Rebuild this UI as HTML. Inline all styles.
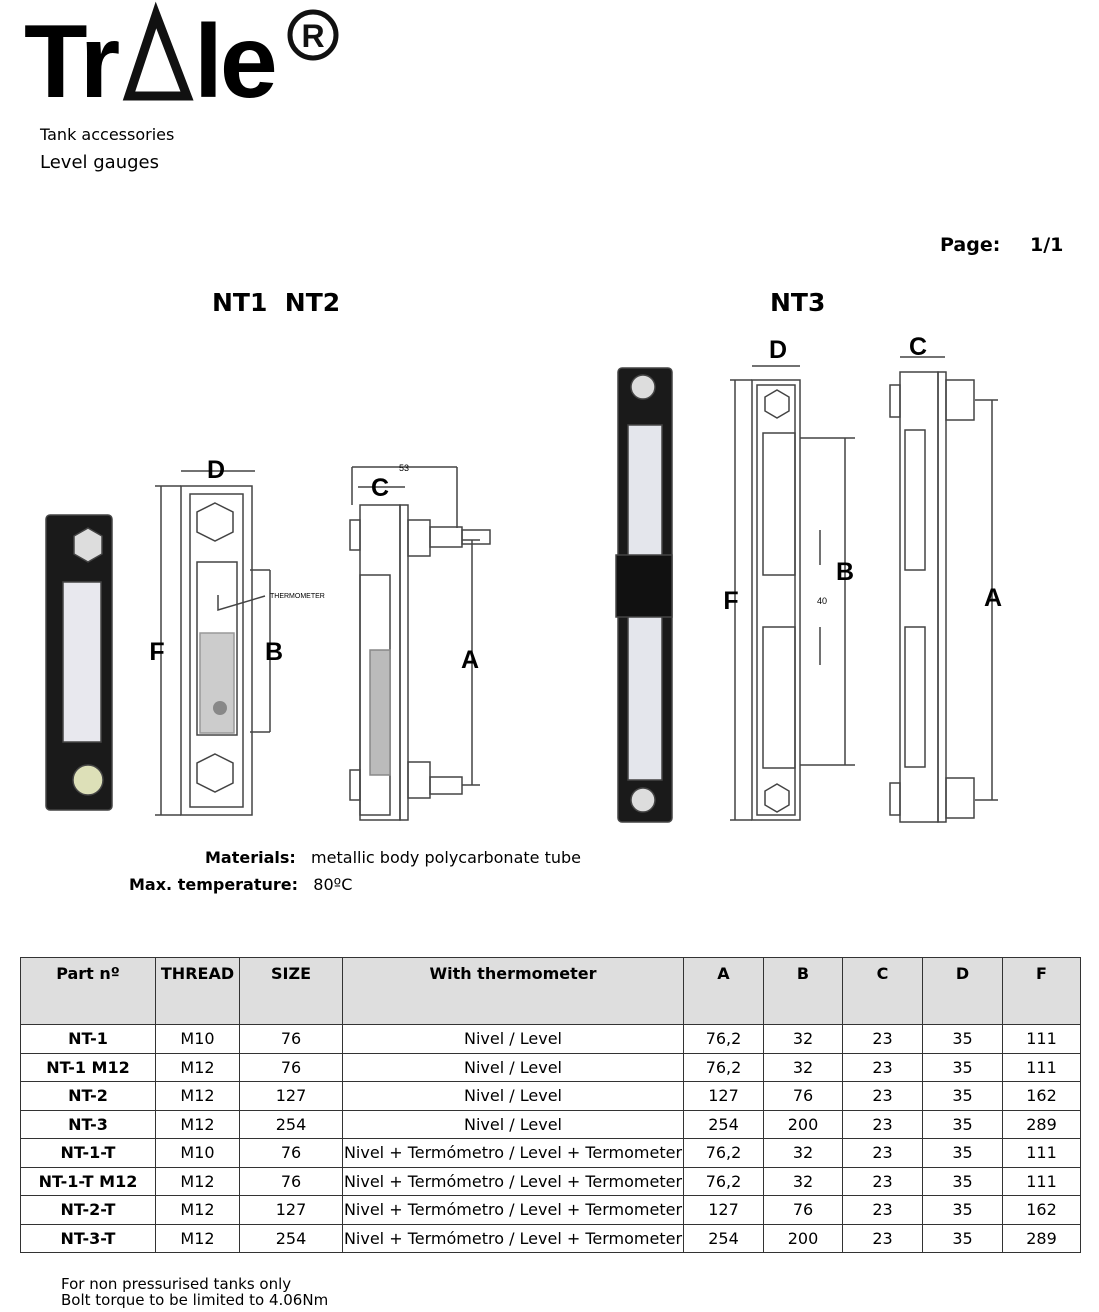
<!DOCTYPE html>
<html><head><meta charset="utf-8"><style>
body{margin:0;background:#fff;width:1099px;height:1312px;position:relative;font-family:"DejaVu Sans","Liberation Sans",sans-serif;color:#000;overflow:hidden}
.a{position:absolute;white-space:nowrap}
table{position:absolute;left:20px;top:957px;border-collapse:collapse;font-size:16px}
td{border:1.5px solid #333;text-align:center;padding:0;height:27.5px}
tr.h td{background:#dedede;font-weight:bold;vertical-align:top;height:60px;padding-top:6px}
td.b{font-weight:bold}
</style></head><body>
<div class="a" style="left:24px;top:2px;font-family:'Liberation Sans',sans-serif;font-weight:bold;font-size:104px;letter-spacing:-2px;line-height:120px">Tr</div>
<svg class="a" style="left:0;top:0" width="360" height="110"><polygon points="156,15 129,96 187,96" fill="none" stroke="#111" stroke-width="9"/><circle cx="313" cy="35" r="23" fill="none" stroke="#111" stroke-width="5"/><text x="313" y="47" font-family="Liberation Sans" font-weight="bold" font-size="32" text-anchor="middle" fill="#111">R</text></svg>
<div class="a" style="left:194px;top:2px;font-family:'Liberation Sans',sans-serif;font-weight:bold;font-size:104px;letter-spacing:-3px;line-height:120px">le</div>
<div class="a" style="left:40px;top:125px;font-size:16px">Tank accessories</div>
<div class="a" style="left:40px;top:152px;font-size:18px">Level gauges</div>
<div class="a" style="left:940px;top:234px;font-size:19px;font-weight:bold">Page:</div>
<div class="a" style="left:1030px;top:234px;font-size:19px;font-weight:bold">1/1</div>
<div class="a" style="left:212px;top:288px;font-size:25px;font-weight:bold">NT1&nbsp; NT2</div>
<div class="a" style="left:770px;top:288px;font-size:25px;font-weight:bold">NT3</div>
<svg class="a" style="left:0;top:0" width="1099" height="900" font-family="Liberation Sans" font-weight="bold">
<g stroke="#444" fill="none" stroke-width="1.5">
<rect x="46" y="515" width="66" height="295" rx="4" fill="#1a1a1a"/>
<polygon points="88,528 102,536 102,554 88,562 74,554 74,536" fill="#ddd"/>
<rect x="63" y="582" width="38" height="160" fill="#e8e8ee"/>
<circle cx="88" cy="780" r="15" fill="#dde0b8"/>
<rect x="181" y="486" width="71" height="329"/><rect x="190" y="494" width="53" height="313"/>
<polygon points="215,503 233,512 233,532 215,541 197,532 197,512"/>
<polygon points="215,754 233,763 233,783 215,792 197,783 197,763"/>
<rect x="197" y="562" width="40" height="173"/><rect x="200" y="633" width="34" height="100" fill="#ccc" stroke="#999"/>
<circle cx="220" cy="708" r="7" fill="#888" stroke="none"/>
<path d="M181 471H255M161 486V815M155 486H181M155 815H181M250 570H270M270 570V732M250 732H270M218 595V610L265 596"/>
<path d="M360 505H400V820H360Z"/><rect x="400" y="505" width="8" height="315"/>
<rect x="350" y="520" width="10" height="30"/><rect x="350" y="770" width="10" height="30"/>
<rect x="408" y="520" width="22" height="36"/><rect x="408" y="762" width="22" height="36"/>
<rect x="430" y="527" width="32" height="20"/><rect x="462" y="530" width="28" height="14"/><rect x="430" y="777" width="32" height="17"/>
<rect x="360" y="575" width="30" height="240"/><rect x="370" y="650" width="20" height="125" fill="#bbb" stroke="#888"/>
<path d="M352 467H457M352 467V505M457 467V528M358 487H405M472 540V785M462 540H480M462 785H480"/>
<rect x="618" y="368" width="54" height="454" rx="4" fill="#1a1a1a"/>
<rect x="628" y="425" width="34" height="355" fill="#e4e6ec"/>
<rect x="616" y="555" width="56" height="62" fill="#111"/>
<circle cx="643" cy="387" r="12" fill="#ddd"/><circle cx="643" cy="800" r="12" fill="#ddd"/>
<rect x="752" y="380" width="48" height="440"/><rect x="757" y="385" width="38" height="430"/>
<polygon points="777,390 789,397 789,411 777,418 765,411 765,397"/>
<polygon points="777,784 789,791 789,805 777,812 765,805 765,791"/>
<rect x="763" y="433" width="32" height="142"/><rect x="763" y="627" width="32" height="141"/>
<path d="M752 366H800M735 380V820M730 380H752M730 820H752M800 438H855M800 765H855M845 438V765M820 530V565M820 627V665"/>
<rect x="900" y="372" width="38" height="450"/><rect x="938" y="372" width="8" height="450"/>
<rect x="905" y="430" width="20" height="140"/><rect x="905" y="627" width="20" height="140"/>
<rect x="890" y="385" width="10" height="32"/><rect x="890" y="783" width="10" height="32"/>
<rect x="946" y="380" width="28" height="40"/><rect x="946" y="778" width="28" height="40"/>
<path d="M900 357H945M992 400V800M975 400H998M975 800H998"/>
</g>
<g font-size="25" text-anchor="middle">
<text x="216" y="478">D</text><text x="157" y="660">F</text><text x="274" y="660">B</text>
<text x="380" y="496">C</text><text x="470" y="668">A</text>
<text x="778" y="358">D</text><text x="918" y="355">C</text><text x="731" y="609">F</text><text x="845" y="580">B</text><text x="993" y="606">A</text>
</g>
<text x="404" y="471" font-size="9" font-weight="normal" text-anchor="middle">53</text>
<text x="270" y="598" font-size="7" font-weight="normal">THERMOMETER</text>
<text x="822" y="604" font-size="9" font-weight="normal" text-anchor="middle">40</text>
</svg>
<div class="a" style="left:205px;top:848px;font-size:16px"><b>Materials:</b>&nbsp;&nbsp;&nbsp;metallic body polycarbonate tube</div>
<div class="a" style="left:129px;top:875px;font-size:16px"><b>Max. temperature:</b>&nbsp;&nbsp;&nbsp;80ºC</div>
<table>
<colgroup><col style="width:135px"><col style="width:84px"><col style="width:103px"><col style="width:341px"><col style="width:80px"><col style="width:79px"><col style="width:80px"><col style="width:80px"><col style="width:78px"></colgroup>
<tr class="h"><td>Part nº</td><td>THREAD</td><td>SIZE</td><td>With thermometer</td><td>A</td><td>B</td><td>C</td><td>D</td><td>F</td></tr>
<tr><td class="b">NT-1</td><td>M10</td><td>76</td><td>Nivel / Level</td><td>76,2</td><td>32</td><td>23</td><td>35</td><td>111</td></tr>
<tr><td class="b">NT-1 M12</td><td>M12</td><td>76</td><td>Nivel / Level</td><td>76,2</td><td>32</td><td>23</td><td>35</td><td>111</td></tr>
<tr><td class="b">NT-2</td><td>M12</td><td>127</td><td>Nivel / Level</td><td>127</td><td>76</td><td>23</td><td>35</td><td>162</td></tr>
<tr><td class="b">NT-3</td><td>M12</td><td>254</td><td>Nivel / Level</td><td>254</td><td>200</td><td>23</td><td>35</td><td>289</td></tr>
<tr><td class="b">NT-1-T</td><td>M10</td><td>76</td><td>Nivel + Termómetro / Level + Termometer</td><td>76,2</td><td>32</td><td>23</td><td>35</td><td>111</td></tr>
<tr><td class="b">NT-1-T M12</td><td>M12</td><td>76</td><td>Nivel + Termómetro / Level + Termometer</td><td>76,2</td><td>32</td><td>23</td><td>35</td><td>111</td></tr>
<tr><td class="b">NT-2-T</td><td>M12</td><td>127</td><td>Nivel + Termómetro / Level + Termometer</td><td>127</td><td>76</td><td>23</td><td>35</td><td>162</td></tr>
<tr><td class="b">NT-3-T</td><td>M12</td><td>254</td><td>Nivel + Termómetro / Level + Termometer</td><td>254</td><td>200</td><td>23</td><td>35</td><td>289</td></tr>
</table>
<div class="a" style="left:61px;top:1276px;font-size:15px;line-height:16px">For non pressurised tanks only<br>Bolt torque to be limited to 4.06Nm</div>
</body></html>
